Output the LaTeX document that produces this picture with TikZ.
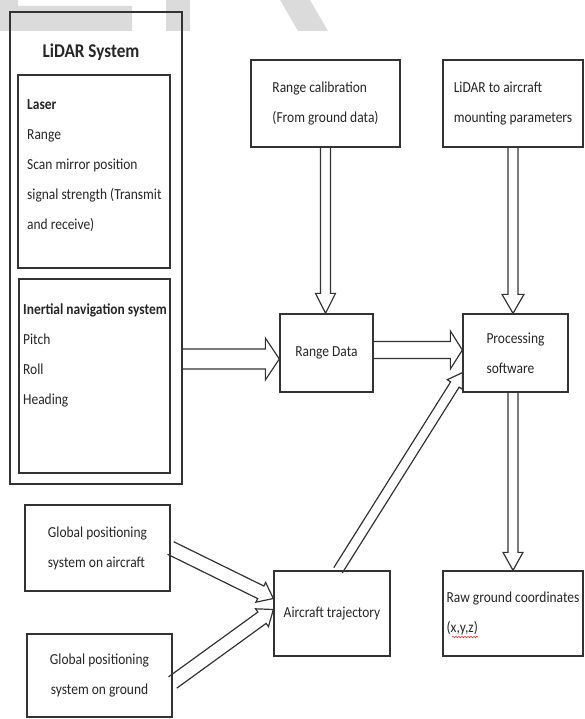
\documentclass[tikz,border=0pt]{standalone}
\usepackage{fontspec}
\setmainfont{Carlito}[FakeStretch=0.88]
\usepackage{tikz}
\usetikzlibrary{calc, decorations.pathmorphing}

\tikzset{
  box/.style={draw=black!80, line width=1.3pt, inner sep=0pt},
  txt/.style={text=black!85, font=\fontsize{15.3}{30}\selectfont, align=left, inner sep=0pt},
  fatline/.style={draw=black!80, line width=1.2pt, line join=miter},
}

% block arrow: from, to, half shaft, half head, head length
\newcommand\blockarrow[5]{%
  \draw[fatline] ($(#1)!#3!90:(#2)$) -- ($(#2)!#5!(#1)!#3!-90:(#1)$) -- ($(#2)!#5!(#1)!#4!-90:(#1)$) -- (#2)
    -- ($(#2)!#5!(#1)!#4!90:(#1)$) -- ($(#2)!#5!(#1)!#3!90:(#1)$) -- ($(#1)!#3!-90:(#2)$);
}

\begin{document}
\begin{tikzpicture}[x=1pt, y=-1pt]
	\useasboundingbox (0,0) rectangle (584,719);

	% watermark
	\fill[black!14] (0,0) -- (18,0) -- (18,6) -- (132,6) -- (132,31) -- (0,31) -- cycle;
	\fill[black!14] (166,0) rectangle (190,31);
	\fill[black!14] (280,0) -- (310,0) -- (328,31) -- (298,31) -- cycle;

	% LiDAR system
	\node[box, minimum width=172pt, minimum height=472pt] (lidar) at (96,248) {};
	\node[txt, font=\bfseries\fontsize{19.5}{22}\selectfont] (title) at (91,52) {LiDAR System};
	\node[box, minimum width=152pt, minimum height=193pt] (laser) at (94,171.5) {};
	\node[txt, anchor=north west] (lasertxt) at (27,99) {\textbf{Laser}\\Range\\Scan mirror position\\signal strength (Transmit\\and receive)};
	\node[box, minimum width=151pt, minimum height=194pt] (ins) at (94.5,376) {};
	\node[txt, anchor=north west] (instxt) at (23,304) {\textbf{Inertial navigation system}\\Pitch\\Roll\\Heading};

	% other blocks
	\node[box, txt, minimum width=149pt, minimum height=87pt] (rcal) at (325.5,103.5) {Range calibration\\(From ground data)};
	\node[box, txt, minimum width=140pt, minimum height=87pt] (mount) at (513,103.5) {LiDAR to aircraft\\mounting parameters};
	\node[box, txt, minimum width=93pt, minimum height=78pt] (rdata) at (326.5,353) {Range Data};
	\node[box, txt, minimum width=105pt, minimum height=78pt] (proc) at (515.5,353) {Processing\\software};
	\node[box, txt, minimum width=116pt, minimum height=85pt] (traj) at (332,613.5) {Aircraft trajectory};
	\node[box, txt, minimum width=140pt, minimum height=85pt] (raw) at (513,613.5) {Raw ground coordinates\\(x,y,z)};
	\node[box, txt, minimum width=145pt, minimum height=86pt] (gpsair) at (97.5,548) {Global positioning\\system on aircraft};
	\node[box, txt, align=center, minimum width=145pt, minimum height=83pt] (gpsgnd) at (99.5,675.5) {Global positioning\\system on ground};

	\draw[red, decorate, decoration={snake, amplitude=0.8pt, segment length=3pt}] (452,637) -- (478,637);

	% arrow ends
	\coordinate (rdin) at ([yshift=-6pt]rdata.west);
	\coordinate (rdout) at ([yshift=3pt]rdata.east);
	\coordinate (trout) at ([xshift=6pt]traj.north);
	\coordinate (prin) at ([yshift=20pt]proc.south west);
	\coordinate (trin1) at ([yshift=15pt]traj.west);
	\coordinate (trin2) at ([yshift=4pt]traj.west);
	\coordinate (gpgout) at ([yshift=-7pt]gpsgnd.east);

	\blockarrow{lidar.east |- rdin}{rdin}{10pt}{21pt}{14pt}
	\blockarrow{rcal.south}{rcal.south |- rdata.north}{5pt}{10pt}{20pt}
	\blockarrow{rdout}{proc.west |- rdout}{8.5pt}{19pt}{12pt}
	\blockarrow{mount.south}{mount.south |- proc.north}{5pt}{11pt}{19pt}
	\blockarrow{trout}{prin}{5pt}{9pt}{14pt}
	\blockarrow{raw.north |- proc.south}{raw.north}{5pt}{10pt}{18pt}
	\blockarrow{gpsair.east}{trin1}{7pt}{11pt}{14pt}
	\blockarrow{gpgout}{trin2}{7pt}{11pt}{14pt}
\end{tikzpicture}
\end{document}
